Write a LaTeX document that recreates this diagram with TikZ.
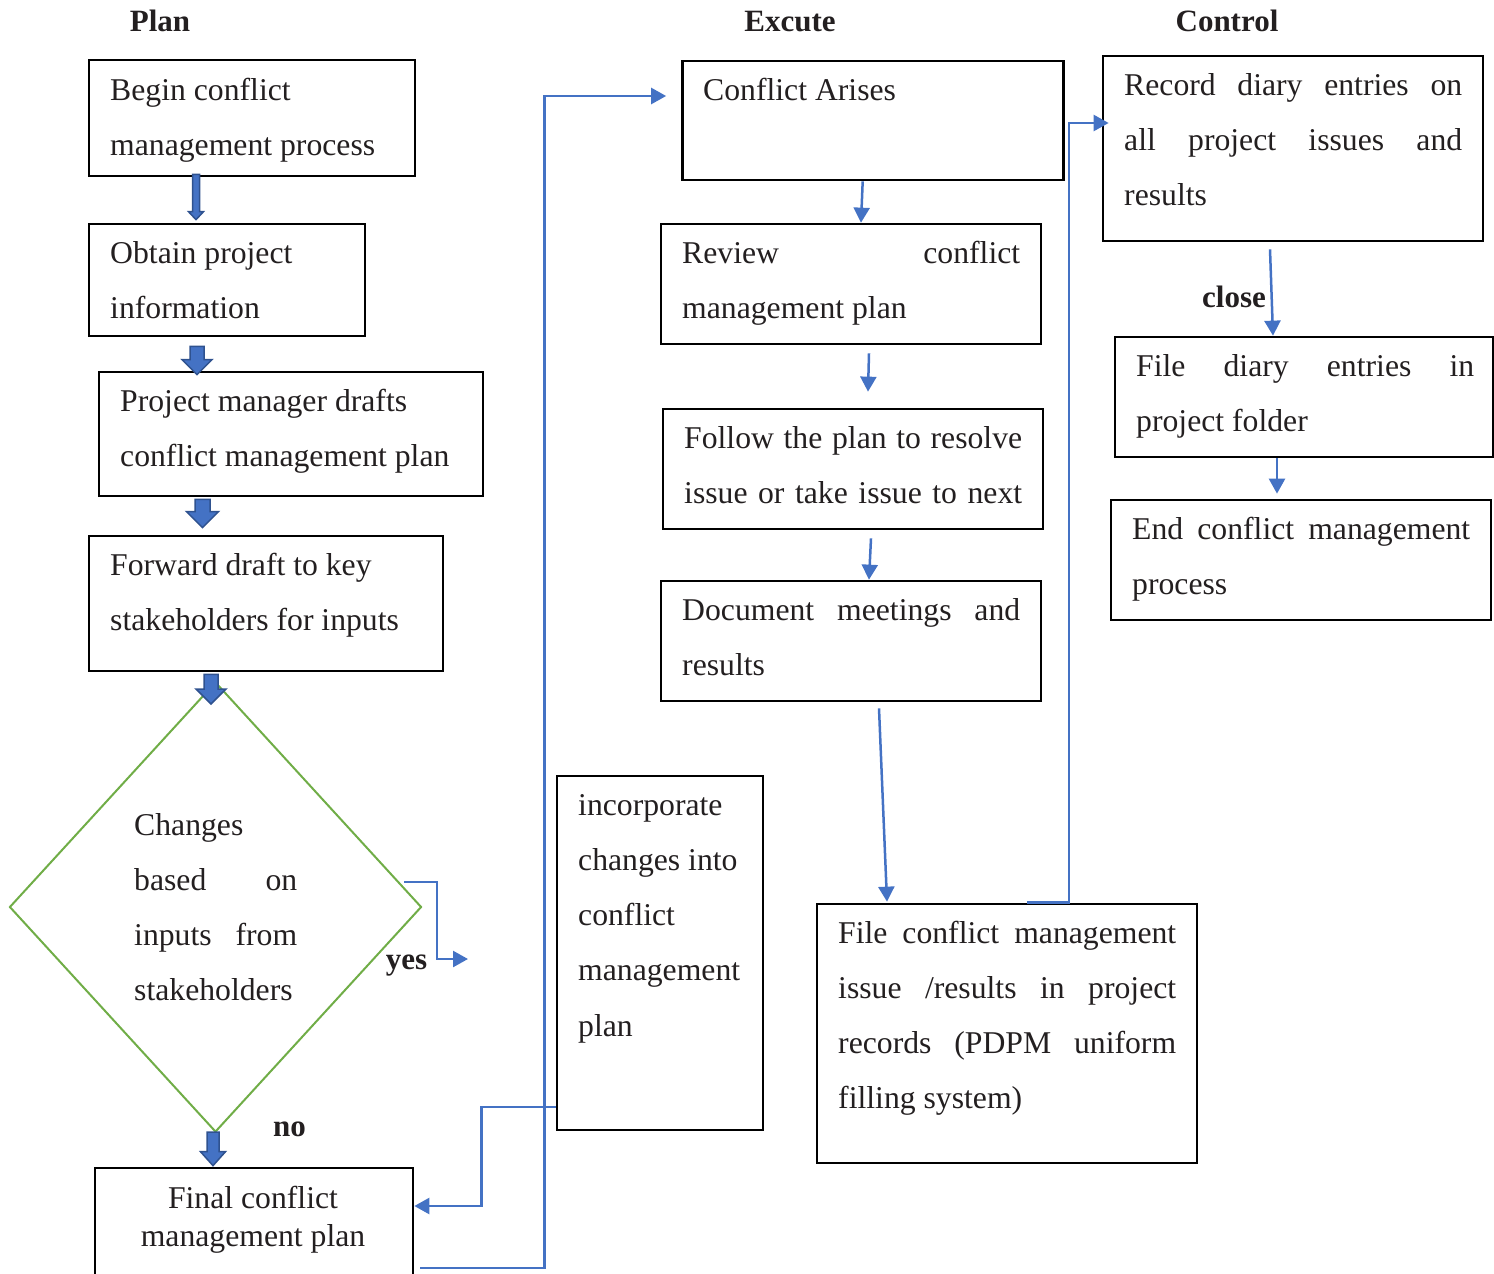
\documentclass[tikz,border=0pt]{standalone}
\usepackage{fontspec}
\setmainfont{Liberation Serif}
\usetikzlibrary{shapes.geometric,arrows.meta,calc}
\definecolor{arrblue}{HTML}{4472C4}
\definecolor{arrdark}{HTML}{2F528F}
\definecolor{dgreen}{HTML}{70AD47}
\definecolor{txtcol}{HTML}{231F20}
\newcommand\bodyfont{\fontsize{31.7}{55.3}\selectfont}
\newcommand\tightfont{\fontsize{31.7}{38.5}\selectfont}
\newcommand\jline[2][338pt]{\makebox[#1][s]{#2}}
\newcommand\blockarr[5]{\draw[barrow] let \p1=#1, \p2=#2 in
  (\x1-#3pt,\y1) -- (\x1+#3pt,\y1) -- (\x1+#3pt,\y2+#5pt) -- (\x1+#4pt,\y2+#5pt)
  -- (\x1,\y2) -- (\x1-#4pt,\y2+#5pt) -- (\x1-#3pt,\y2+#5pt) -- cycle;}
\begin{document}
\begin{tikzpicture}[x=1pt,y=-1pt,
  box/.style={draw, line width=2.7pt, rectangle, inner sep=0pt},
  txt/.style={anchor=base west, inner sep=0pt, align=left, font=\bodyfont, text=txtcol},
  lbl/.style={anchor=base, inner sep=0pt, font=\fontsize{31}{36}\selectfont\bfseries, text=txtcol},
  conn/.style={draw=arrblue, line width=2.5pt, -{Triangle[length=15pt,width=16pt]}},
  barrow/.style={fill=arrblue, draw=arrdark, line width=1.5pt, line join=miter}]
\useasboundingbox (0,0) rectangle (1494,1274);

% titles
\node[lbl] (tplan) at (160,31) {Plan};
\node[lbl] (texec) at (790,31) {Excute};
\node[lbl] (tctrl) at (1227,31) {Control};

% Plan column (text nodes anchored at the baseline of their last line)
\node[box, minimum width=326pt, minimum height=116pt] (b1) at (252,118) {};
\node[txt] (b1t) at (110,155.3) {Begin conflict\\management process};
\node[box, minimum width=276pt, minimum height=112pt] (b2) at (227,280) {};
\node[txt] (b2t) at (110,318.3) {Obtain project\\information};
\node[box, minimum width=384pt, minimum height=124pt] (b3) at (291,434) {};
\node[txt] (b3t) at (120,466.3) {Project manager drafts\\conflict management plan};
\node[box, minimum width=354pt, minimum height=135pt] (b4) at (266,603.5) {};
\node[txt] (b4t) at (110,630.3) {Forward draft to key\\stakeholders for inputs};
\node[draw=dgreen, line width=2pt, diamond, inner sep=0pt, minimum width=412pt, minimum height=450pt] (d) at (215.5,907) {};
\node[txt] (dt) at (134,1000.9) {Changes\\\jline[163pt]{based on}\\\jline[163pt]{inputs from}\\stakeholders};
\node[box, minimum width=318pt, minimum height=112pt] (b5) at (254,1224) {};
\node[anchor=base, inner sep=0pt, align=center, font=\tightfont, text=txtcol] (b5t) at (253,1246.5) {Final conflict\\management plan};

\node[box, minimum width=206pt, minimum height=354pt] (inc) at (660,953) {};
\node[txt] (inct) at (578,1036.2) {incorporate\\changes into\\conflict\\management\\plan};

% Execute column
\node[box, minimum width=381pt, minimum height=119pt] (e1) at (873,120.5) {};
\node[txt] (e1t) at (703,100.5) {Conflict Arises};
\node[box, minimum width=380pt, minimum height=120pt] (e2) at (851,284) {};
\node[txt] (e2t) at (682,318.3) {\jline{Review conflict}\\management plan};
\node[box, minimum width=380pt, minimum height=120pt] (e3) at (853,469) {};
\node[txt] (e3t) at (684,503.3) {\jline{Follow the plan to resolve}\\\jline{issue or take issue to next}};
\node[box, minimum width=380pt, minimum height=120pt] (e4) at (851,641) {};
\node[txt] (e4t) at (682,675.3) {\jline{Document meetings and}\\results};
\node[box, minimum width=380pt, minimum height=259pt] (e5) at (1007,1033.5) {};
\node[txt] (e5t) at (838,1108.9) {\jline{File conflict management}\\\jline{issue /results in project}\\\jline{records (PDPM uniform}\\filling system)};

% Control column
\node[box, minimum width=380pt, minimum height=185pt] (c1) at (1293,148.5) {};
\node[txt] (c1t) at (1124,205.6) {\jline{Record diary entries on}\\\jline{all project issues and}\\results};
\node[box, minimum width=378pt, minimum height=120pt] (c2) at (1304,397) {};
\node[txt] (c2t) at (1136,431.3) {\jline{File diary entries in}\\project folder};
\node[box, minimum width=380pt, minimum height=120pt] (c3) at (1301,560) {};
\node[txt] (c3t) at (1132,594.3) {\jline{End conflict management}\\process};

% labels
\node[lbl] (yes) at (406.5,969) {yes};
\node[lbl] (no) at (289.5,1136) {no};
\node[lbl] (close) at (1234,307) {close};

% block arrows (plan column)
\blockarr{([shift={(-56,-3)}]b1.south)}{([shift={(-31,-3)}]b2.north)}{3.5}{7.5}{8}
\blockarr{([shift={(-30,9)}]b2.south)}{([shift={(-94,4)}]b3.north)}{7}{15}{15}
\blockarr{([shift={(-88.5,2)}]b3.south)}{([shift={(-63.5,-7)}]b4.north)}{7.5}{16}{16}
\blockarr{([shift={(-55,2)}]b4.south)}{([shift={(-4.5,23)}]d.north)}{7}{15}{15}
\blockarr{([shift={(-2.5,-1)}]d.south)}{([shift={(-41,-1)}]b5.north)}{6}{12.5}{14}

% thin connectors
\coordinate (yesend) at (468,959);
\draw[conn] ([shift={(-18.5,-25)}]d.east) -- ++(33,0) |- (yesend);
\draw[conn] ([shift={(0,154)}]inc.west) -- ++(-74,0) |- ([shift={(0,-18)}]b5.east);
\draw[conn] ([shift={(6,44)}]b5.east) -- ++(124,0) |- ([shift={(-15,-24.5)}]e1.west);

\draw[conn] ([shift={(-10.3,0)}]e1.south) -- ([shift={(10,0)}]e2.north);
\draw[conn] ([shift={(18,8)}]e2.south) -- ([shift={(15,-16)}]e3.north);
\draw[conn] ([shift={(18,8)}]e3.south) -- ([shift={(18,0)}]e4.north);
\draw[conn] ([shift={(28,6)}]e4.south) -- ([shift={(-120,-1)}]e5.north);
\draw[conn] ([shift={(20,0)}]e5.north) -- ++(42,0) |- ([shift={(7,-25.5)}]c1.west);

\draw[conn] ([shift={(-23,7)}]c1.south) -- ([shift={(-31,0)}]c2.north);
\draw[conn] ([shift={(-27,0)}]c2.south) -- ([shift={(-24,-5)}]c3.north);
\end{tikzpicture}
\end{document}
